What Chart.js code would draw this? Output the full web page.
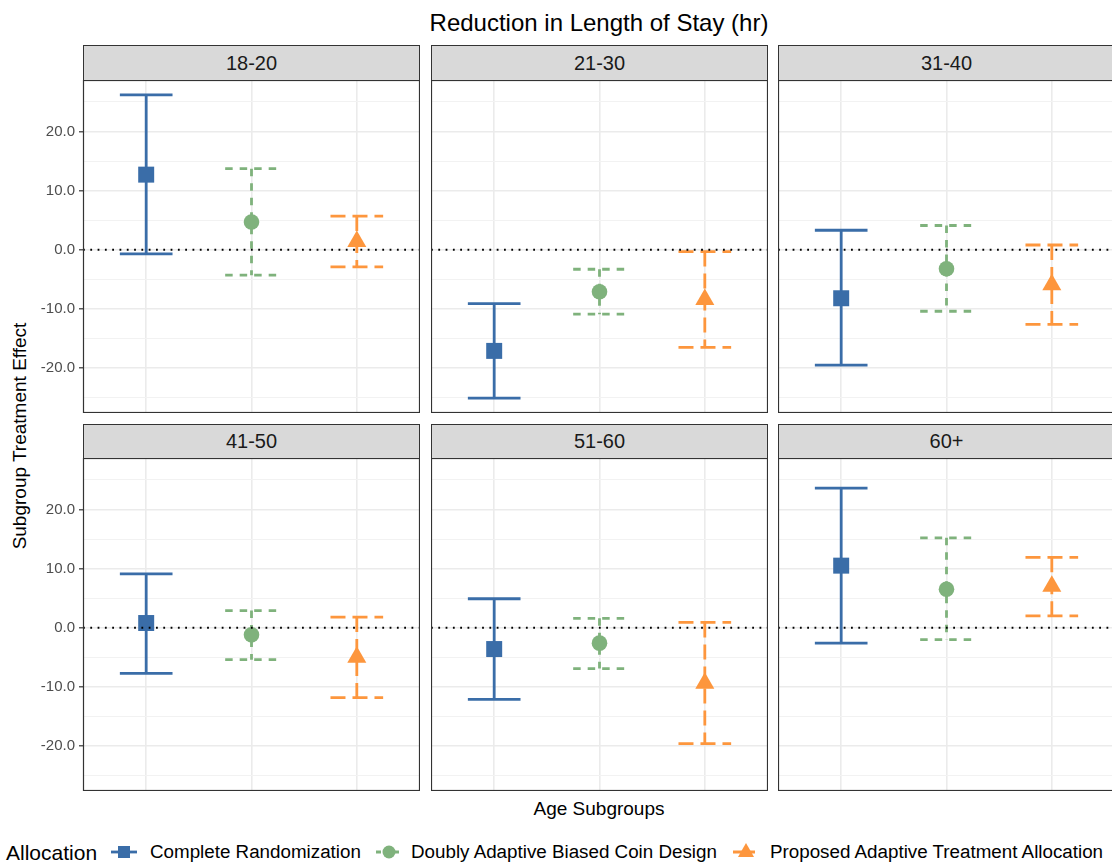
<!DOCTYPE html>
<html>
<head>
<meta charset="utf-8">
<script src="https://cdn.jsdelivr.net/npm/chart.js@4.4.1/dist/chart.umd.min.js"></script>
<style>
  html, body { margin: 0; padding: 0; background: #fff; }
  body { width: 1112px; height: 863px; overflow: hidden; position: relative;
         font-family: "Liberation Sans", Arial, Helvetica, sans-serif; color: #000; }
  .abs { position: absolute; white-space: nowrap; }
  .centered { transform: translate(-50%, -50%); }
  .strip { position: absolute; box-sizing: border-box; background: #D9D9D9;
           border: 1.2px solid #333; color: #1A1A1A; font-size: 20px;
           display: flex; align-items: center; justify-content: center; }
  canvas.panel { position: absolute; }
  .legend-text { position: absolute; white-space: nowrap; transform: translateY(-50%); font-size: 18.8px; line-height: 1; }
  canvas.key { position: absolute; transform: translateY(-50%); }
</style>
</head>
<body>
<div class="abs centered" style="left:599px; top:23px; font-size:24px;">Reduction in Length of Stay (hr)</div>
<div class="abs centered" style="left:20px; top:436px; font-size:19px; transform: translate(-50%, -50%) rotate(-90deg);">Subgroup Treatment Effect</div>
<div class="abs centered" style="left:599px; top:809px; font-size:19px;">Age Subgroups</div>
<div id="figure"></div>
<div id="legend"></div>

<script>
// Age subgroups (one facet each) and the three allocation designs
const ageGroups = ['18-20', '21-30', '31-40', '41-50', '51-60', '60+'];
const allocations = ['Complete Randomization', 'Doubly Adaptive Biased Coin Design', 'Proposed Adaptive Treatment Allocation'];

// Complete Randomization: estimate and 95% interval per age group
const crEstimate = [12.7, -17.1, -8.2, 0.8, -3.6, 10.5];
const crLower    = [-0.7, -25.1, -19.5, -7.7, -12.1, -2.6];
const crUpper    = [26.2, -9.1, 3.3, 9.1, 4.9, 23.6];

// Doubly Adaptive Biased Coin Design
const dbcdEstimate = [4.7, -7.1, -3.2, -1.2, -2.6, 6.5];
const dbcdLower    = [-4.3, -10.9, -10.4, -5.4, -6.9, -2.0];
const dbcdUpper    = [13.7, -3.3, 4.1, 2.9, 1.6, 15.2];

// Proposed Adaptive Treatment Allocation
const pataEstimate = [1.4, -8.4, -5.9, -5.0, -9.4, 7.0];
const pataLower    = [-2.9, -16.5, -12.6, -11.8, -19.6, 2.0];
const pataUpper    = [5.7, -0.3, 0.8, 1.8, 0.9, 11.9];

// Axis ticks
const yMajorTicks = [-20, -10, 0, 10, 20];
const yMinorTicks = [-25, -15, -5, 5, 15, 25];
const referenceLine = 0;

// ---- styling ----
const colors = ['#3A6DA8', '#7FB27C', '#FD963D'];
const dashes = [[], [7.5, 7], [15, 7]];
const pointStyles = ['rect', 'circle', 'triangle'];
const pointRadii = [11.3, 7.8, 11];
const capHalf = 0.25;
const xMin = -0.6, xMax = 2.6;
const yMin = -27.6, yMax = 28.7;

const series = [
  { est: crEstimate, lo: crLower, hi: crUpper },
  { est: dbcdEstimate, lo: dbcdLower, hi: dbcdUpper },
  { est: pataEstimate, lo: pataLower, hi: pataUpper }
];

// facet geometry (page pixels)
const colLeft = [83, 431, 778];
const panelW = 337;
const stripTop = [45, 424];
const stripH = [36, 35];
const plotTop = [80, 458];
const plotH = 333;
const axisRoom = 60;

const figure = document.getElementById('figure');

const panelBorder = {
  id: 'panelBorder',
  afterDraw(chart) {
    const a = chart.chartArea, c = chart.ctx;
    c.save();
    c.strokeStyle = '#333333';
    c.lineWidth = 1.2;
    c.strokeRect(a.left + 0.5, a.top + 0.5, a.right - a.left - 1, a.bottom - a.top - 1);
    c.restore();
  }
};

function errorBarPath(i, lo, hi) {
  // three separate strokes: upper cap, stem, lower cap
  return [
    { x: i - capHalf, y: hi }, { x: i + capHalf, y: hi }, { x: i, y: null },
    { x: i, y: hi }, { x: i, y: lo }, { x: i, y: null },
    { x: i - capHalf, y: lo }, { x: i + capHalf, y: lo }
  ];
}

ageGroups.forEach((group, g) => {
  const row = Math.floor(g / 3), col = g % 3;
  const isLeft = col === 0;

  const strip = document.createElement('div');
  strip.className = 'strip';
  strip.style.left = colLeft[col] + 'px';
  strip.style.top = stripTop[row] + 'px';
  strip.style.width = panelW + 'px';
  strip.style.height = stripH[row] + 'px';
  strip.textContent = group;
  figure.appendChild(strip);

  const canvas = document.createElement('canvas');
  canvas.className = 'panel';
  const w = panelW + (isLeft ? axisRoom : 0);
  canvas.width = w; canvas.height = plotH;
  canvas.style.width = w + 'px'; canvas.style.height = plotH + 'px';
  canvas.style.left = (colLeft[col] - (isLeft ? axisRoom : 0)) + 'px';
  canvas.style.top = plotTop[row] + 'px';
  figure.appendChild(canvas);

  const datasets = [];
  // dotted reference line at zero (drawn on top)
  datasets.push({
    data: [{ x: xMin, y: referenceLine }, { x: xMax, y: referenceLine }],
    showLine: true, borderColor: '#000', borderWidth: 1.8, borderDash: [1.8, 5.5],
    pointRadius: 0, borderCapStyle: 'butt'
  });
  // estimates
  series.forEach((s, k) => {
    datasets.push({
      label: allocations[k],
      data: [{ x: k, y: s.est[g] }],
      pointStyle: pointStyles[k], pointRadius: pointRadii[k],
      pointBackgroundColor: colors[k], pointBorderWidth: 0, showLine: false
    });
  });
  // interval bars
  series.forEach((s, k) => {
    datasets.push({
      data: errorBarPath(k, s.lo[g], s.hi[g]),
      showLine: true, spanGaps: false, borderColor: colors[k], borderWidth: 2.8,
      borderDash: dashes[k], borderCapStyle: 'butt', pointRadius: 0, tension: 0
    });
  });

  const isMajor = v => yMajorTicks.includes(v);

  new Chart(canvas, {
    type: 'scatter',
    data: { datasets },
    options: {
      responsive: false, animation: false, events: [],
      layout: { padding: 0, autoPadding: false },
      plugins: { legend: { display: false }, tooltip: { enabled: false } },
      scales: {
        x: {
          type: 'linear', min: xMin, max: xMax,
          afterBuildTicks: s => { s.ticks = allocations.map((_, k) => ({ value: k })); },
          afterFit: s => { s.height = 0; s.paddingLeft = 0; s.paddingRight = 0; },
          ticks: { display: false },
          border: { display: false },
          grid: { color: '#EBEBEB', lineWidth: 1.6, drawTicks: false }
        },
        y: {
          type: 'linear', min: yMin, max: yMax,
          afterBuildTicks: s => {
            s.ticks = yMinorTicks.concat(yMajorTicks).sort((a, b) => a - b).map(v => ({ value: v }));
          },
          afterFit: s => { s.width = isLeft ? axisRoom : 0; s.paddingTop = 0; s.paddingBottom = 0; },
          ticks: {
            display: isLeft, autoSkip: false, padding: 4,
            color: '#4D4D4D', font: { family: '"Liberation Sans", Arial, sans-serif', size: 15 },
            callback: v => isMajor(v) ? v.toFixed(1) : ''
          },
          border: { display: false },
          grid: {
            color: c => (c.tick && isMajor(c.tick.value)) ? '#EBEBEB' : '#F2F2F2',
            lineWidth: c => (c.tick && isMajor(c.tick.value)) ? 1.6 : 1,
            drawTicks: isLeft, tickLength: 4, tickWidth: 1.2,
            tickColor: c => (c.tick && isMajor(c.tick.value)) ? '#333333' : 'rgba(0,0,0,0)'
          }
        }
      }
    },
    plugins: [panelBorder]
  });
});

// ---- legend ----
const legend = document.getElementById('legend');
const legendY = 852;
const legendTitle = document.createElement('div');
legendTitle.className = 'legend-text';
legendTitle.style.left = '6px';
legendTitle.style.top = legendY + 'px';
legendTitle.style.fontSize = '21px';
legendTitle.textContent = 'Allocation';
legend.appendChild(legendTitle);

const keyLeft = [110, 375, 732];
const textLeft = [150, 411, 770];

allocations.forEach((name, k) => {
  const kc = document.createElement('canvas');
  kc.className = 'key';
  kc.width = 28; kc.height = 26;
  kc.style.left = keyLeft[k] + 'px';
  kc.style.top = legendY + 'px';
  legend.appendChild(kc);
  const c = kc.getContext('2d');
  c.strokeStyle = colors[k];
  c.fillStyle = colors[k];
  c.lineWidth = 2.8;
  c.setLineDash(k === 0 ? [] : (k === 1 ? [5, 4] : [9, 4]));
  c.beginPath(); c.moveTo(1, 13); c.lineTo(27, 13); c.stroke();
  c.setLineDash([]);
  c.beginPath();
  if (k === 0) { c.rect(8, 7, 12, 12); }
  else if (k === 1) { c.arc(14, 13, 6.5, 0, Math.PI * 2); }
  else { c.moveTo(14, 4); c.lineTo(22, 18); c.lineTo(6, 18); c.closePath(); }
  c.fill();

  const t = document.createElement('div');
  t.className = 'legend-text';
  t.style.left = textLeft[k] + 'px';
  t.style.top = legendY + 'px';
  t.textContent = name;
  legend.appendChild(t);
});
</script>
</body>
</html>
